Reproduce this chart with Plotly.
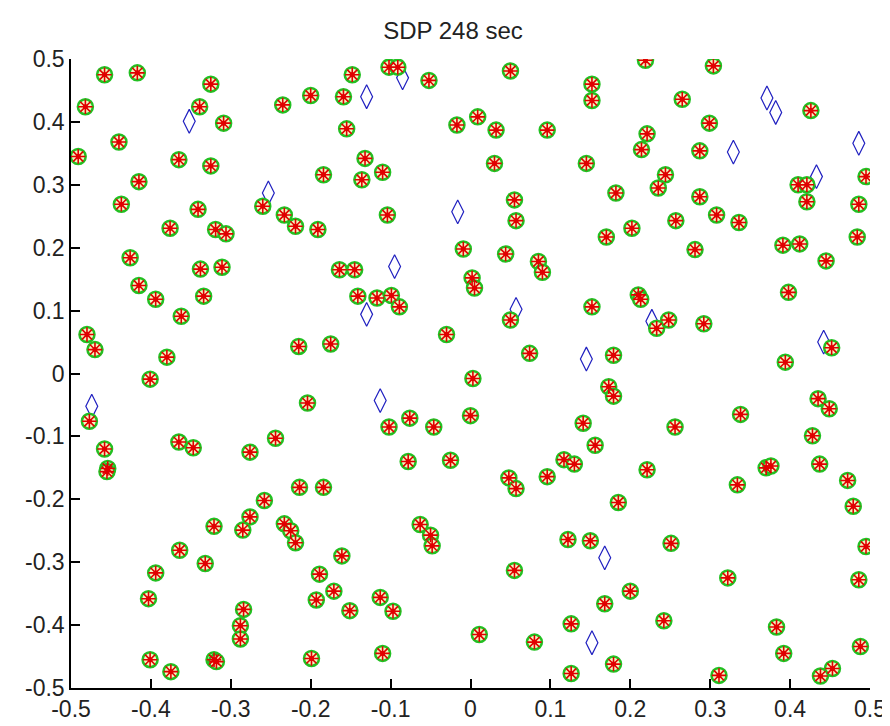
import plotly.graph_objects as go

title_text = "SDP 248 sec"

star_x = [-0.458,-0.417,-0.325,-0.482,-0.339,-0.235,-0.309,-0.440,-0.491,-0.365,-0.325,-0.415,-0.437,-0.341,-0.260,-0.233,-0.219,-0.376,-0.319,-0.306,-0.426,
          -0.200,-0.148,-0.159,-0.102,-0.091,-0.052,0.050,0.152,0.152,-0.155,-0.017,0.009,0.032,0.096,-0.132,-0.110,-0.184,-0.136,0.030,0.145,0.055,0.057,-0.104,-0.191,-0.009,0.044,
          0.219,0.304,0.265,0.299,0.426,0.221,0.214,0.287,0.244,0.235,0.182,0.287,0.308,0.336,0.257,0.202,0.170,0.281,0.410,0.421,0.421,0.495,0.486,0.484,0.391,0.412,0.445,
          -0.415,-0.394,-0.338,-0.311,-0.334,-0.362,-0.480,-0.470,-0.380,-0.401,-0.477,-0.458,-0.454,-0.455,-0.365,-0.347,-0.276,-0.244,-0.215,-0.204,-0.214,
          0.085,0.090,-0.164,-0.145,0.002,0.005,-0.141,-0.117,-0.099,-0.089,0.050,0.152,-0.175,-0.030,0.074,0.003,-0.076,-0.102,-0.046,0.000,0.141,0.156,-0.078,-0.025,0.117,0.130,0.048,0.057,0.096,-0.184,
          0.210,0.213,0.398,0.233,0.248,0.292,0.452,0.394,0.179,0.173,0.179,0.338,0.435,0.449,0.428,0.256,0.437,0.370,0.376,0.221,0.334,0.472,
          -0.258,-0.276,-0.285,-0.321,-0.233,-0.225,-0.219,-0.364,-0.332,-0.394,-0.403,-0.284,-0.288,-0.288,-0.401,-0.375,-0.321,-0.318,-0.199,
          -0.063,-0.050,-0.048,0.122,0.150,-0.161,-0.189,-0.171,-0.193,-0.151,-0.113,-0.097,0.055,0.011,0.080,0.126,0.126,-0.110,
          0.185,0.479,0.251,0.495,0.322,0.486,0.200,0.168,0.242,0.383,0.392,0.488,0.179,0.311,0.453,0.438]
star_y = [0.475,0.478,0.460,0.424,0.424,0.427,0.398,0.368,0.345,0.340,0.330,0.305,0.269,0.261,0.266,0.252,0.234,0.231,0.229,0.222,0.184,
          0.442,0.475,0.440,0.487,0.487,0.466,0.481,0.460,0.434,0.389,0.395,0.408,0.387,0.387,0.342,0.320,0.316,0.308,0.334,0.334,0.276,0.243,0.252,0.229,0.198,0.190,
          0.498,0.489,0.436,0.398,0.418,0.381,0.356,0.354,0.316,0.295,0.287,0.281,0.252,0.240,0.243,0.231,0.217,0.197,0.300,0.300,0.273,0.313,0.269,0.217,0.204,0.206,0.179,
          0.140,0.118,0.166,0.169,0.123,0.091,0.062,0.038,0.026,-0.009,-0.076,-0.120,-0.151,-0.156,-0.109,-0.118,-0.125,-0.103,0.043,-0.047,-0.181,
          0.178,0.161,0.165,0.165,0.152,0.136,0.123,0.120,0.124,0.106,0.085,0.106,0.047,0.062,0.032,-0.008,-0.071,-0.085,-0.085,-0.067,-0.079,-0.114,-0.140,-0.138,-0.137,-0.144,-0.166,-0.183,-0.164,-0.181,
          0.125,0.118,0.129,0.072,0.085,0.079,0.041,0.018,0.029,-0.021,-0.036,-0.065,-0.040,-0.056,-0.099,-0.085,-0.144,-0.150,-0.147,-0.153,-0.177,-0.170,
          -0.202,-0.228,-0.249,-0.243,-0.239,-0.250,-0.269,-0.281,-0.302,-0.317,-0.358,-0.375,-0.401,-0.422,-0.455,-0.474,-0.455,-0.458,-0.453,
          -0.240,-0.257,-0.274,-0.264,-0.266,-0.290,-0.319,-0.346,-0.360,-0.377,-0.356,-0.378,-0.313,-0.415,-0.427,-0.398,-0.477,-0.445,
          -0.205,-0.211,-0.270,-0.275,-0.325,-0.328,-0.346,-0.366,-0.393,-0.403,-0.445,-0.434,-0.462,-0.480,-0.469,-0.481]

diamond_x = [-0.352,-0.253,-0.130,-0.085,-0.016,0.371,0.382,0.486,0.329,0.433,-0.474,-0.095,-0.130,0.057,0.145,-0.113,0.227,0.442,0.152,0.168]
diamond_y = [0.401,0.287,0.440,0.470,0.257,0.438,0.415,0.366,0.352,0.313,-0.052,0.170,0.094,0.102,0.023,-0.043,0.083,0.050,-0.428,-0.293]

tick_vals = [-0.5,-0.4,-0.3,-0.2,-0.1,0,0.1,0.2,0.3,0.4,0.5]
tick_text = ["-0.5","-0.4","-0.3","-0.2","-0.1","0","0.1","0.2","0.3","0.4","0.5"]

fig = go.Figure()
fig.add_trace(go.Scatter(x=diamond_x, y=diamond_y, mode="markers",
    marker=dict(symbol="diamond-tall-open", size=17, color="#2020c0", line=dict(width=1.2, color="#2020c0")),
    showlegend=False, hoverinfo="skip"))
fig.add_trace(go.Scatter(x=star_x, y=star_y, mode="markers",
    marker=dict(symbol="circle", size=15, color="#f4f4c0", line=dict(width=2.5, color="#22c022")),
    showlegend=False, hoverinfo="skip"))
fig.add_trace(go.Scatter(x=star_x, y=star_y, mode="markers",
    marker=dict(symbol="asterisk-open", size=12, color="#e00000", line=dict(width=1.6, color="#e00000")),
    showlegend=False, hoverinfo="skip"))
fig.add_trace(go.Scatter(x=star_x, y=star_y, mode="markers",
    marker=dict(symbol="circle", size=5, color="#e00000", line=dict(width=0)),
    showlegend=False, hoverinfo="skip"))

axis_common = dict(range=[-0.5, 0.5], tickvals=tick_vals, ticktext=tick_text,
                   showgrid=False, zeroline=False, showline=True, linecolor="black", linewidth=1.5,
                   ticks="inside", ticklen=9, tickwidth=1.5, tickcolor="black", mirror=False,
                   tickfont=dict(family="Liberation Sans, Arial, sans-serif", size=23, color="#222222"))

fig.update_layout(
    width=890, height=726,
    margin=dict(l=63, r=16, t=51, b=37),
    paper_bgcolor="white", plot_bgcolor="white",
    title=dict(text=title_text, x=0.5, xanchor="center", y=1 - 23/726, yanchor="middle",
               font=dict(family="Liberation Sans, Arial, sans-serif", size=24, color="#222222")),
    xaxis=dict(**axis_common),
    yaxis=dict(**axis_common),
)
fig.write_html("out.html")
